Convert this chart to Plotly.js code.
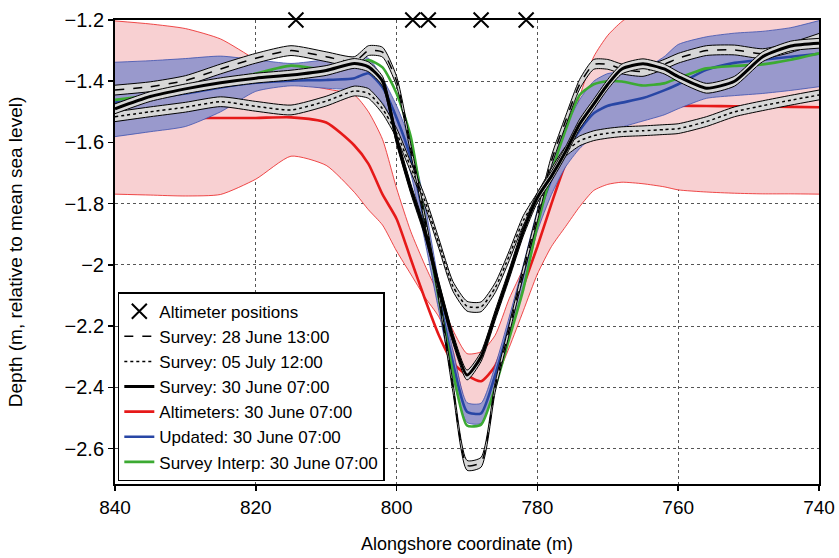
<!DOCTYPE html>
<html>
<head>
<meta charset="utf-8">
<script src="https://cdn.plot.ly/plotly-3.0.1.min.js"></script>
<style>html,body{margin:0;padding:0;background:#fff;}#chart{width:839px;height:558px;}</style>
</head>
<body>
<div id="chart"></div>
<script>
// Alongshore coordinate (m)
const xs = [840, 835, 830, 825, 820, 815, 810, 806, 804, 802, 800, 798, 796, 794, 792, 790, 788, 786, 784, 782, 780, 778, 776, 774, 772, 770, 768, 765, 762, 760, 756, 752, 748, 744, 740];

// Survey: 28 June 13:00 (dashed)
const survey28 = [-1.429, -1.418, -1.398, -1.36, -1.325, -1.30, -1.32, -1.336, -1.300, -1.305, -1.40, -1.62, -1.85, -2.10, -2.40, -2.655, -2.645, -2.40, -2.21, -2.02, -1.84, -1.66, -1.53, -1.41, -1.345, -1.345, -1.36, -1.368, -1.345, -1.325, -1.30, -1.298, -1.31, -1.29, -1.26];
// Survey: 05 July 12:00 (dotted)
const survey05 = [-1.516, -1.50, -1.485, -1.467, -1.482, -1.494, -1.465, -1.432, -1.44, -1.49, -1.57, -1.68, -1.79, -1.93, -2.07, -2.135, -2.137, -2.075, -1.97, -1.855, -1.78, -1.70, -1.63, -1.595, -1.578, -1.57, -1.565, -1.562, -1.558, -1.555, -1.532, -1.50, -1.48, -1.462, -1.445];
// Survey: 30 June 07:00 (solid)
const survey30 = [-1.49, -1.45, -1.425, -1.405, -1.39, -1.38, -1.365, -1.342, -1.353, -1.40, -1.59, -1.75, -1.89, -2.07, -2.24, -2.36, -2.30, -2.165, -2.03, -1.89, -1.78, -1.71, -1.63, -1.54, -1.475, -1.41, -1.36, -1.343, -1.36, -1.385, -1.423, -1.40, -1.32, -1.285, -1.276];
// Survey uncertainty band half-width (m)
const surveyHalfWidth = 0.016;

// Altimeters: 30 June 07:00
const altimeters = [-1.52, -1.52, -1.52, -1.52, -1.52, -1.518, -1.535, -1.61, -1.67, -1.77, -1.85, -1.98, -2.11, -2.23, -2.32, -2.36, -2.38, -2.33, -2.21, -2.07, -1.94, -1.80, -1.67, -1.59, -1.55, -1.52, -1.50, -1.485, -1.48, -1.48, -1.481, -1.482, -1.483, -1.484, -1.485];
const altimetersUpper = [-1.203, -1.213, -1.228, -1.262, -1.33, -1.40, -1.425, -1.445, -1.50, -1.59, -1.75, -1.89, -2.00, -2.10, -2.213, -2.29, -2.284, -2.23, -2.11, -2.01, -1.86, -1.73, -1.61, -1.45, -1.32, -1.25, -1.205, -1.16, -1.12, -1.10, -1.10, -1.10, -1.10, -1.10, -1.10];
const altimetersLower = [-1.769, -1.772, -1.775, -1.77, -1.72, -1.645, -1.675, -1.763, -1.82, -1.87, -1.955, -2.03, -2.105, -2.17, -2.28, -2.46, -2.46, -2.38, -2.27, -2.15, -2.03, -1.94, -1.875, -1.81, -1.757, -1.737, -1.73, -1.735, -1.745, -1.755, -1.762, -1.766, -1.768, -1.768, -1.769];

// Updated: 30 June 07:00
const updated = [-1.47, -1.455, -1.44, -1.42, -1.405, -1.398, -1.396, -1.39, -1.374, -1.42, -1.52, -1.65, -1.86, -2.10, -2.32, -2.48, -2.485, -2.36, -2.20, -2.03, -1.85, -1.72, -1.63, -1.56, -1.505, -1.48, -1.47, -1.455, -1.43, -1.41, -1.363, -1.34, -1.33, -1.32, -1.31];
const updatedUpper = [-1.338, -1.333, -1.326, -1.318, -1.33, -1.342, -1.33, -1.322, -1.325, -1.39, -1.48, -1.60, -1.80, -2.06, -2.28, -2.45, -2.452, -2.33, -2.17, -2.00, -1.82, -1.67, -1.55, -1.46, -1.40, -1.375, -1.37, -1.36, -1.32, -1.28, -1.255, -1.243, -1.237, -1.225, -1.202];
const updatedLower = [-1.581, -1.565, -1.548, -1.50, -1.433, -1.415, -1.423, -1.428, -1.43, -1.47, -1.56, -1.70, -1.92, -2.15, -2.37, -2.515, -2.518, -2.40, -2.24, -2.07, -1.89, -1.77, -1.68, -1.62, -1.58, -1.565, -1.55, -1.53, -1.51, -1.49, -1.456, -1.447, -1.44, -1.43, -1.418];

// Survey Interp: 30 June 07:00
const surveyInterp = [-1.461, -1.447, -1.433, -1.405, -1.375, -1.349, -1.362, -1.35, -1.331, -1.355, -1.44, -1.58, -1.85, -2.11, -2.35, -2.525, -2.522, -2.40, -2.24, -2.08, -1.87, -1.70, -1.56, -1.445, -1.41, -1.40, -1.401, -1.414, -1.407, -1.39, -1.358, -1.35, -1.345, -1.33, -1.309];

// Altimeter positions
const altimeterX = [814.3, 797.7, 795.5, 788.0, 781.6];
const altimeterY = [-1.2, -1.2, -1.2, -1.2, -1.2];

// Ticks
const xTickVals = [840, 820, 800, 780, 760, 740];
const xTickText = ['840', '820', '800', '780', '760', '740'];
const yTickVals = [-1.2, -1.4, -1.6, -1.8, -2.0, -2.2, -2.4, -2.6];
const yTickText = ['\u22121.2', '\u22121.4', '\u22121.6', '\u22121.8', '\u22122', '\u22122.2', '\u22122.4', '\u22122.6'];

const SHAPE = 'spline', SMOOTH = 0.6;
const traces = [];
function band(lower, upper, edgeColor, fillColor, edgeWidth) {
  traces.push({x: xs, y: lower, mode: 'lines', line: {color: edgeColor, width: edgeWidth, shape: SHAPE, smoothing: SMOOTH}, showlegend: false, hoverinfo: 'skip'});
  traces.push({x: xs, y: upper, mode: 'lines', fill: 'tonexty', fillcolor: fillColor, line: {color: edgeColor, width: edgeWidth, shape: SHAPE, smoothing: SMOOTH}, showlegend: false, hoverinfo: 'skip'});
}
function line(y, name, color, width, dash, rank) {
  traces.push({x: xs, y: y, mode: 'lines', name: name, legendrank: rank, line: {color: color, width: width, dash: dash, shape: SHAPE, smoothing: SMOOTH}});
}

band(altimetersLower, altimetersUpper, 'rgb(235,30,30)', 'rgb(248,208,210)', 0.8);
line(altimeters, 'Altimeters: 30 June 07:00', 'rgb(230,25,25)', 2.6, 'solid', 5);
band(updatedLower, updatedUpper, 'rgb(60,80,175)', 'rgb(153,153,204)', 0.8);
line(updated, 'Updated: 30 June 07:00', 'rgb(40,70,165)', 2.6, 'solid', 6);
line(surveyInterp, 'Survey Interp: 30 June 07:00', 'rgb(60,170,50)', 2.6, 'solid', 7);

function surveyBand(center) {
  band(center.map(v => v - surveyHalfWidth), center.map(v => v + surveyHalfWidth), 'black', 'rgb(215,215,215)', 1);
}
surveyBand(survey05);
line(survey05, 'Survey: 05 July 12:00', 'black', 1.5, 'dot', 3);
surveyBand(survey28);
line(survey28, 'Survey: 28 June 13:00', 'black', 1.5, 'dash', 2);
surveyBand(survey30);
line(survey30, 'Survey: 30 June 07:00', 'black', 3, 'solid', 4);

traces.push({x: altimeterX, y: altimeterY, mode: 'markers', name: 'Altimeter positions', legendrank: 1, cliponaxis: false,
  marker: {symbol: 'x-thin', size: 15, color: 'black', line: {color: 'black', width: 2}}});

const FONT = 'Liberation Sans, Arial, Helvetica, sans-serif';
const axisCommon = {
  ticks: 'outside', ticklen: 5, tickwidth: 1.5, tickcolor: 'black',
  showline: true, linewidth: 2, linecolor: 'black', mirror: true,
  showgrid: true, gridcolor: '#555', griddash: 'dot', gridwidth: 1,
  zeroline: false
};
const layout = {
  width: 839, height: 558,
  margin: {l: 115, r: 20, t: 20, b: 74},
  paper_bgcolor: 'white', plot_bgcolor: 'white',
  font: {family: FONT, color: 'black'},
  showlegend: true,
  legend: {x: 0.004, y: 0.006, xanchor: 'left', yanchor: 'bottom', bgcolor: 'white', bordercolor: 'black', borderwidth: 1.5,
    font: {family: FONT, size: 17, color: 'black'}, tracegroupgap: 0, itemwidth: 30, traceorder: 'normal'},
  xaxis: Object.assign({}, axisCommon, {range: [840, 740], tickmode: 'array', tickvals: xTickVals, ticktext: xTickText,
    tickfont: {family: FONT, size: 19, color: 'black'},
    title: {text: 'Alongshore coordinate (m)', font: {family: FONT, size: 18, color: 'black'}, standoff: 21}}),
  yaxis: Object.assign({}, axisCommon, {range: [-2.716, -1.2], tickmode: 'array', tickvals: yTickVals, ticktext: yTickText,
    tickfont: {family: FONT, size: 20, color: 'black'},
    title: {text: 'Depth (m, relative to mean sea level)', font: {family: FONT, size: 19, color: 'black'}, standoff: 37}})
};
Plotly.newPlot('chart', traces, layout, {displayModeBar: false, staticPlot: true});
</script>
</body>
</html>
